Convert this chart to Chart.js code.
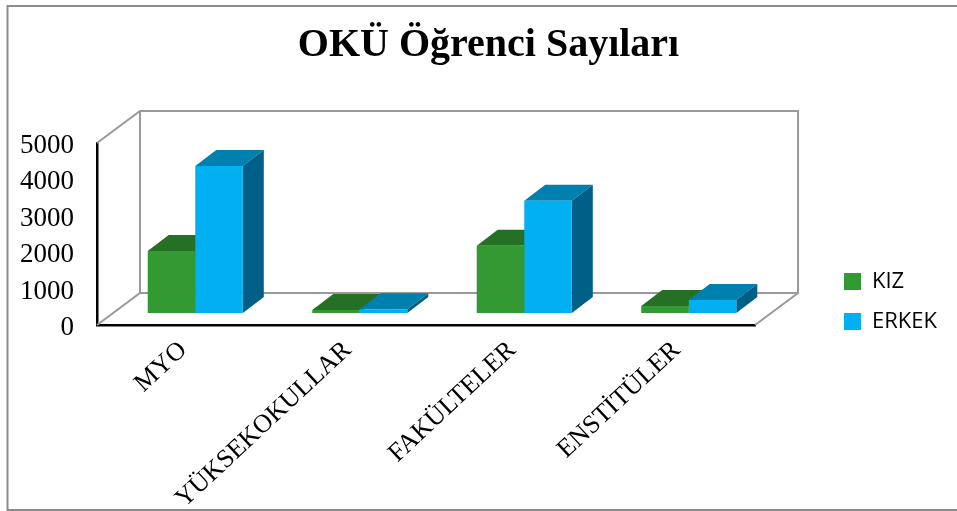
<!DOCTYPE html>
<html><head><meta charset="utf-8">
<style>html,body{margin:0;padding:0;background:#fff}#w{width:957px;height:511px}</style>
<script src="https://cdn.jsdelivr.net/npm/chart.js@4/dist/chart.umd.min.js"></script>
</head><body><div id="w"><canvas id="c"></canvas></div>
<script>
const categories = ["MYO","YÜKSEKOKULLAR","FAKÜLTELER","ENSTİTÜLER"];
const seriesNames = ["KIZ","ERKEK"];
const kiz = [1700,80,1850,190];
const erkek = [4040,100,3085,360];
const yTicks = [0,1000,2000,3000,4000,5000];
const frontColors = ["#339933","#00B0F0"];
const topColors = ["#267026","#0080AE"];
const sideColors = ["#1C551C","#005F86"];

const WALL_DX = 43, WALL_DY = -32, BAR_DX = 16, BAR_DY = -12, DEPTH_DX = 21, DEPTH_DY = -16;

function poly(ctx, pts, fill){
  ctx.beginPath(); pts.forEach((p,i)=> i?ctx.lineTo(p[0],p[1]):ctx.moveTo(p[0],p[1])); ctx.closePath();
  ctx.fillStyle = fill; ctx.fill();
}
const threeD = {
  id:'threeD',
  afterLayout(chart){
    const lg = chart.legend;
    lg.left = 826; lg.right = 957; lg.top += 46; lg.bottom += 46;
    const t = chart.titleBlock;
    t.left += 40.5; t.right += 40.5;
  },
  beforeDraw(chart){
    const c = chart.ctx;
    c.save(); c.fillStyle='#fff'; c.fillRect(0,0,chart.width,chart.height);
    c.strokeStyle='#8c8c8c'; c.lineWidth=2;
    c.beginPath(); c.moveTo(957,6); c.lineTo(7.5,6); c.lineTo(7.5,510); c.lineTo(957,510); c.stroke();
    c.restore();
  },
  beforeDatasetsDraw(chart){
    const c = chart.ctx, a = chart.chartArea;
    c.save(); c.strokeStyle='#999'; c.lineWidth=2;
    c.beginPath();
    c.moveTo(a.left,a.top); c.lineTo(a.left+WALL_DX,a.top+WALL_DY);
    c.lineTo(a.right+WALL_DX,a.top+WALL_DY); c.lineTo(a.right+WALL_DX,a.bottom+WALL_DY);
    c.lineTo(a.right,a.bottom);
    c.moveTo(a.left,a.bottom); c.lineTo(a.left+WALL_DX,a.bottom+WALL_DY); c.lineTo(a.right+WALL_DX,a.bottom+WALL_DY);
    c.moveTo(a.left+WALL_DX,a.top+WALL_DY); c.lineTo(a.left+WALL_DX,a.bottom+WALL_DY);
    c.stroke(); c.restore();
    c.save(); c.translate(BAR_DX,BAR_DY);
    chart.data.datasets.forEach((d,i)=>{
      chart.getDatasetMeta(i).data.forEach(b=>{
        const l=b.x-b.width/2, r=b.x+b.width/2, t=b.y, bo=b.base;
        poly(c,[[l,t],[r,t],[r+DEPTH_DX,t+DEPTH_DY],[l+DEPTH_DX,t+DEPTH_DY]],topColors[i]);
        poly(c,[[r,t],[r+DEPTH_DX,t+DEPTH_DY],[r+DEPTH_DX,bo+DEPTH_DY],[r,bo]],sideColors[i]);
      });
    });
  },
  afterDatasetsDraw(chart){ chart.ctx.restore(); }
};

new Chart(document.getElementById('c'),{
  type:'bar',
  data:{labels:categories,datasets:[
    {label:seriesNames[0],data:kiz,backgroundColor:frontColors[0],borderWidth:0,clip:false},
    {label:seriesNames[1],data:erkek,backgroundColor:frontColors[1],borderWidth:0,clip:false}
  ]},
  plugins:[threeD],
  options:{
    responsive:true,maintainAspectRatio:false,animation:false,
    categoryPercentage:0.578,barPercentage:1,
    layout:{padding:{left:20,right:81,top:0,bottom:0}},
    plugins:{
      tooltip:{enabled:false},
      title:{display:true,text:"OKÜ Öğrenci Sayıları",color:'#000',
        font:{family:'"Liberation Serif"',size:40,weight:'bold',lineHeight:1.2},
        padding:{top:22,bottom:73}},
      legend:{position:'right',labels:{boxWidth:17,boxHeight:17,padding:18,color:'#000',
        font:{family:'"Open Sans"',size:22}}}
    },
    scales:{
      x:{position:'bottom',offset:true,grid:{display:false,drawTicks:false},
        border:{display:true,color:'#000',width:2.5},
        ticks:{autoSkip:false,minRotation:43,maxRotation:43,padding:10,labelOffset:4,color:'#000',
          font:{family:'"Liberation Serif"',size:26}},
        afterFit(s){s.height=186;}},
      y:{min:0,max:5000,position:'left',grid:{display:false,drawTicks:false},
        border:{display:true,color:'#000',width:2.5},
        afterBuildTicks(s){s.ticks=yTicks.map(v=>({value:v}));},
        ticks:{padding:23,labelOffset:3,color:'#000',font:{family:'"Liberation Serif"',size:27},
          callback(v){return String(v);}},
        afterFit(s){s.width=77;}}
    }
  }
});
</script></body></html>
